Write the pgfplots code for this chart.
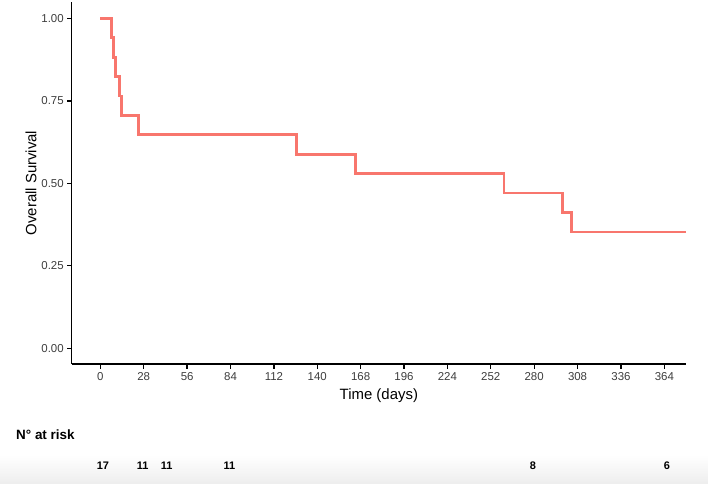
\documentclass[border=0pt]{standalone}
\usepackage{fontspec}
\setmainfont{Liberation Sans}
\usepackage{pgfplots}
\pgfplotsset{compat=1.18}
\definecolor{kmred}{HTML}{F8766D}
\definecolor{ticktext}{HTML}{3D3D3D}

\begin{document}
\begin{tikzpicture}[x=1bp,y=1bp]
  % overall canvas (top-left origin, y pointing down as negative)
  \useasboundingbox (0,0) rectangle (708,-484);
  % light band under the risk table
  \shade[top color=white, bottom color=black!7] (0,-455) rectangle (708,-484);

  \begin{axis}[
    at={(71.7bp,-364bp)}, anchor=south west,
    scale only axis,
    width=614.3bp, height=362bp,
    xmin=-18.5, xmax=378,
    ymin=-0.0476, ymax=1.05,
    axis lines*=left,
    axis line style={black, line width=1.4pt},
    xtick={0,28,...,364},
    ytick={0,0.25,0.5,0.75,1},
    yticklabel style={/pgf/number format/.cd, fixed, fixed zerofill, precision=2},
    /pgf/number format/assume math mode=true,
    tick style={black, line width=1.3pt},
    tick align=outside,
    major tick length=4.5bp,
    ticklabel style={font=\fontsize{11.5}{13}\selectfont, text=ticktext},
    xlabel={Time (days)},
    ylabel={Overall Survival},
    label style={font=\fontsize{15}{17}\selectfont},
    xlabel style={yshift=-2bp},
    ylabel style={yshift=-2bp},
    clip=false,
  ]
    \addplot[kmred, line width=2.8pt, const plot] coordinates {
      (0,1.0000) (7.4,0.9412) (8.3,0.8824) (10.0,0.8235) (12.6,0.7647)
      (13.7,0.7059) (24.7,0.6471) (126.8,0.5882) (164.8,0.5294)
      (260.5,0.4706) (298.2,0.4118) (304.2,0.3529) (378,0.3529)
    };
  \end{axis}

  % number at risk table
  \node[anchor=west, font=\bfseries\fontsize{13.5}{15}\selectfont, inner sep=0pt] at (16,-435) {N° at risk};
  \begin{scope}[font=\bfseries\fontsize{11}{13}\selectfont]
    \node at (103,-466) {17};
    \node at (142.7,-466) {11};
    \node at (166.7,-466) {11};
    \node at (229.5,-466) {11};
    \node at (533,-466) {8};
    \node at (667,-466) {6};
  \end{scope}
\end{tikzpicture}
\end{document}
